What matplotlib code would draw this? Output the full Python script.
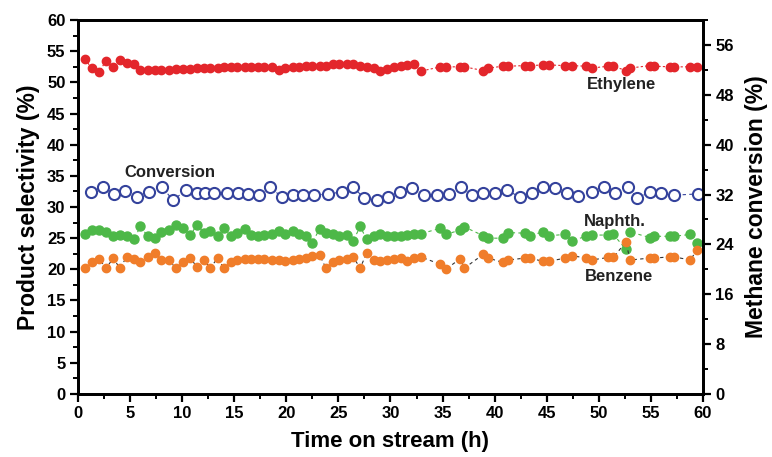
import matplotlib
matplotlib.use("Agg")
import matplotlib.pyplot as plt
from matplotlib.ticker import MultipleLocator

plt.rcParams['font.family'] = ['Liberation Sans', 'DejaVu Sans']
plt.rcParams['font.weight'] = 'bold'

# sampling times for the product selectivities (h)
t_sel = [0.7, 1.3, 2.0, 2.7, 3.4, 4.0, 4.7, 5.4, 6.0, 6.7, 7.4, 8.0, 8.7, 9.4, 10.1,
         10.8, 11.4, 12.1, 12.7, 13.4, 14.0, 14.7, 15.3, 16.0, 16.6, 17.3, 17.9, 18.6,
         19.3, 19.9, 20.6, 21.2, 21.9, 22.5, 23.2, 23.8, 24.5, 25.1, 25.8, 26.4, 27.1,
         27.7, 28.4, 29.0, 29.7, 30.3, 31.0, 31.6, 32.3, 32.9,
         34.8, 35.3, 36.7, 37.1, 38.9, 39.4, 40.8, 41.3, 42.9, 43.4, 44.6, 45.2, 46.8,
         47.4, 48.8, 49.3, 50.9, 51.4, 52.6, 53.0, 54.9, 55.3, 56.8, 57.2, 58.8, 59.4]

ethylene = [53.7, 52.3, 51.6, 53.5, 52.5, 53.6, 53.1, 53.0, 52.0, 52.0, 52.0, 52.0, 52.0, 52.1, 52.2,
            52.2, 52.3, 52.3, 52.3, 52.3, 52.4, 52.4, 52.4, 52.4, 52.4, 52.4, 52.4, 52.4,
            52.0, 52.3, 52.4, 52.5, 52.6, 52.6, 52.7, 52.7, 53.0, 53.0, 53.0, 53.0, 52.6,
            52.4, 52.3, 51.8, 52.2, 52.4, 52.6, 52.8, 53.0, 51.8,
            52.5, 52.5, 52.5, 52.5, 51.9, 52.3, 52.6, 52.6, 52.7, 52.7, 52.8, 52.8, 52.7,
            52.7, 52.6, 52.3, 52.6, 52.6, 51.9, 52.3, 52.7, 52.6, 52.5, 52.5, 52.5, 52.5]

naphth = [25.6, 26.3, 26.3, 26.0, 25.3, 25.5, 25.4, 24.9, 26.9, 25.3, 25.0, 26.0, 26.3, 27.1, 26.6,
          25.5, 27.1, 25.9, 26.2, 25.3, 26.6, 25.3, 25.8, 26.4, 25.5, 25.3, 25.5, 25.6,
          26.1, 25.7, 26.1, 25.6, 25.3, 24.3, 26.5, 25.9, 25.6, 25.3, 25.5, 24.5, 26.9,
          24.8, 25.4, 25.6, 25.4, 25.3, 25.3, 25.5, 25.6, 25.7,
          26.6, 25.6, 26.3, 26.8, 25.4, 25.0, 25.0, 25.9, 25.8, 25.4, 26.0, 25.4, 25.6,
          24.6, 25.3, 25.5, 25.5, 25.6, 23.2, 26.0, 25.1, 25.3, 25.3, 25.3, 25.6, 24.2]

benzene = [20.2, 21.2, 21.7, 20.2, 21.8, 20.2, 22.0, 21.7, 21.2, 22.0, 22.6, 21.5, 21.5, 20.2, 21.2,
           21.8, 20.4, 21.5, 20.2, 21.8, 20.2, 21.2, 21.5, 21.6, 21.6, 21.7, 21.7, 21.5,
           21.5, 21.4, 21.5, 21.6, 21.8, 22.2, 22.3, 20.2, 21.2, 21.5, 21.6, 22.0, 20.2,
           22.6, 21.5, 21.3, 21.5, 21.6, 21.8, 21.3, 21.8, 22.0,
           20.8, 20.0, 21.7, 20.2, 22.4, 21.8, 21.1, 21.5, 21.8, 21.8, 21.3, 21.3, 21.8,
           22.2, 21.8, 21.5, 21.9, 21.9, 24.4, 21.5, 21.8, 21.8, 22.0, 22.0, 21.5, 23.1]

# methane conversion, right axis
t_conv = [1.25, 2.4, 3.5, 4.5, 5.7, 6.8, 8.1, 9.1, 10.4, 11.4, 12.2, 13.1, 14.3, 15.4,
          16.3, 17.4, 18.4, 19.6, 20.6, 21.6, 22.7, 24.0, 25.3, 26.4, 27.5, 28.7, 29.8,
          30.9, 32.1, 33.2, 34.5, 35.6, 36.8, 37.8, 38.9, 40.0, 41.2, 42.4, 43.6, 44.6,
          45.8, 46.9, 48.0, 49.3, 50.5, 51.6, 52.8, 53.7, 54.9, 56.0, 57.2, 59.5]
conversion = [32.4, 33.2, 32.1, 32.6, 31.6, 32.4, 33.2, 31.1, 32.7, 32.2, 32.3, 32.2, 32.2, 32.2,
              32.1, 32.0, 33.2, 31.6, 31.9, 31.9, 31.9, 32.1, 32.4, 33.2, 31.4, 31.1, 31.6,
              32.4, 33.0, 31.9, 31.9, 32.1, 33.2, 31.9, 32.2, 32.2, 32.7, 31.6, 32.2, 33.2,
              33.0, 32.2, 31.7, 32.4, 33.2, 32.2, 33.2, 31.4, 32.4, 32.2, 31.9, 32.1]

red = '#e3262b'
green = '#4db848'
orange = '#f07d2a'
blue = '#34429c'

fig = plt.figure(figsize=(7.72, 4.57), dpi=100)
ax = fig.add_axes([0.101, 0.138, 0.8096, 0.818])

ax.plot(t_sel, ethylene, ls=(0, (2, 2)), lw=0.8, color=red, marker='o', ms=6, mec=red, mfc=red)
ax.plot(t_sel, naphth, ls=(0, (3, 3)), lw=0.8, color=green, marker='o', ms=6.5, mec=green, mfc=green)
ax.plot(t_sel, benzene, ls=(0, (3, 3)), lw=0.8, color='#333333', marker='o', ms=6,
        mec=orange, mfc=orange)

ax.set_xlim(0, 60)
ax.set_ylim(0, 60)
ax.xaxis.set_major_locator(MultipleLocator(5))
ax.xaxis.set_minor_locator(MultipleLocator(2.5))
ax.yaxis.set_major_locator(MultipleLocator(5))
ax.yaxis.set_minor_locator(MultipleLocator(2.5))
ax.tick_params(which='major', direction='out', length=6, width=1.6, labelsize=12, pad=3)
ax.tick_params(which='minor', direction='out', length=3.5, width=1.4)
for s in ax.spines.values():
    s.set_linewidth(2)
ax.set_xlabel('Time on stream (h)', fontsize=16, fontweight='bold', labelpad=7)
ax.set_ylabel('Product selectivity (%)', fontsize=16.5, fontweight='bold', labelpad=5)

ax2 = ax.twinx()
ax2.plot(t_conv, conversion, ls=(0, (3, 3)), lw=0.8, color=blue, marker='o', ms=8,
         mec=blue, mfc='white', mew=1.5)
ax2.set_ylim(0, 60)
ax2.yaxis.set_major_locator(MultipleLocator(8))
ax2.yaxis.set_minor_locator(MultipleLocator(4))
ax2.tick_params(which='major', direction='out', length=6, width=1.6, labelsize=12, pad=3)
ax2.tick_params(which='minor', direction='out', length=3.5, width=1.4)
ax2.set_ylabel('Methane conversion (%)', fontsize=16.5, fontweight='bold', labelpad=8)
for s in ax2.spines.values():
    s.set_linewidth(2)

lbl = dict(fontsize=12, fontweight='bold', ha='center', va='center', color='#222222')
ax.text(52.2, 49.7, 'Ethylene', **lbl)
ax.text(8.8, 35.6, 'Conversion', **lbl)
ax.text(51.5, 27.6, 'Naphth.', **lbl)
ax.text(51.9, 18.8, 'Benzene', **lbl)

fig.savefig('out.png', dpi=100)
